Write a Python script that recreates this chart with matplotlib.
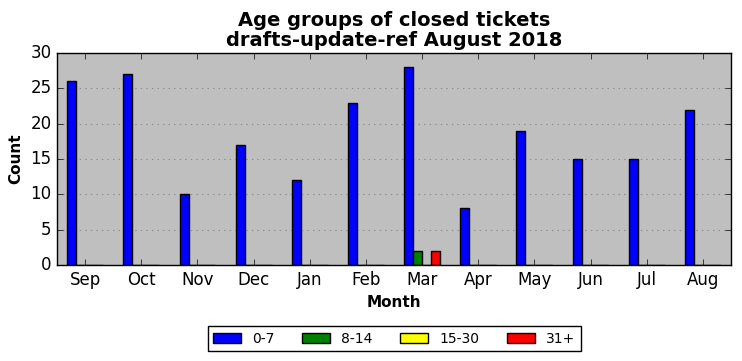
import numpy as np
import matplotlib
matplotlib.use("Agg")
import matplotlib.pyplot as plt

months = ["Sep", "Oct", "Nov", "Dec", "Jan", "Feb", "Mar", "Apr", "May", "Jun", "Jul", "Aug"]
age_0_7 = [26, 27, 10, 17, 12, 23, 28, 8, 19, 15, 15, 22]
age_8_14 = [0, 0, 0, 0, 0, 0, 2, 0, 0, 0, 0, 0]
age_15_30 = [0, 0, 0, 0, 0, 0, 0, 0, 0, 0, 0, 0]
age_31p = [0, 0, 0, 0, 0, 0, 2, 0, 0, 0, 0, 0]

series = [
    ("0-7", age_0_7, "blue"),
    ("8-14", age_8_14, "green"),
    ("15-30", age_15_30, "yellow"),
    ("31+", age_31p, "red"),
]

plt.style.use("classic")
fig = plt.figure(figsize=(7.42, 3.61), dpi=100)
ax = fig.add_axes([0.077, 0.266, 0.908, 0.587])
ax.set_facecolor("#bfbfbf")

x = np.arange(len(months))
w = 0.16
for i, (name, vals, col) in enumerate(series):
    ax.bar(x + (i - 1.5) * w, vals, w, color=col, edgecolor="black",
           linewidth=1, label=name, align="center")

ax.set_xlim(-0.5, len(months) - 0.5)
ax.set_ylim(0, 30)
ax.set_xticks(x)
ax.set_xticklabels(months)
ax.yaxis.grid(True, linestyle=":", color="0.55", linewidth=0.8)
ax.set_axisbelow(True)

ax.set_title("Age groups of closed tickets\ndrafts-update-ref August 2018",
             fontsize=14, fontweight="bold", linespacing=1.1)
ax.set_xlabel("Month", fontsize=11, fontweight="bold")
ax.set_ylabel("Count", fontsize=11, fontweight="bold")

leg = ax.legend(loc="upper center", bbox_to_anchor=(0.5, -0.255), ncol=4,
                fontsize=10, fancybox=False, frameon=True, columnspacing=2.0,
                handlelength=2.0, borderpad=0.4)
leg.get_frame().set_facecolor("white")

fig.savefig("out.png", dpi=100)
